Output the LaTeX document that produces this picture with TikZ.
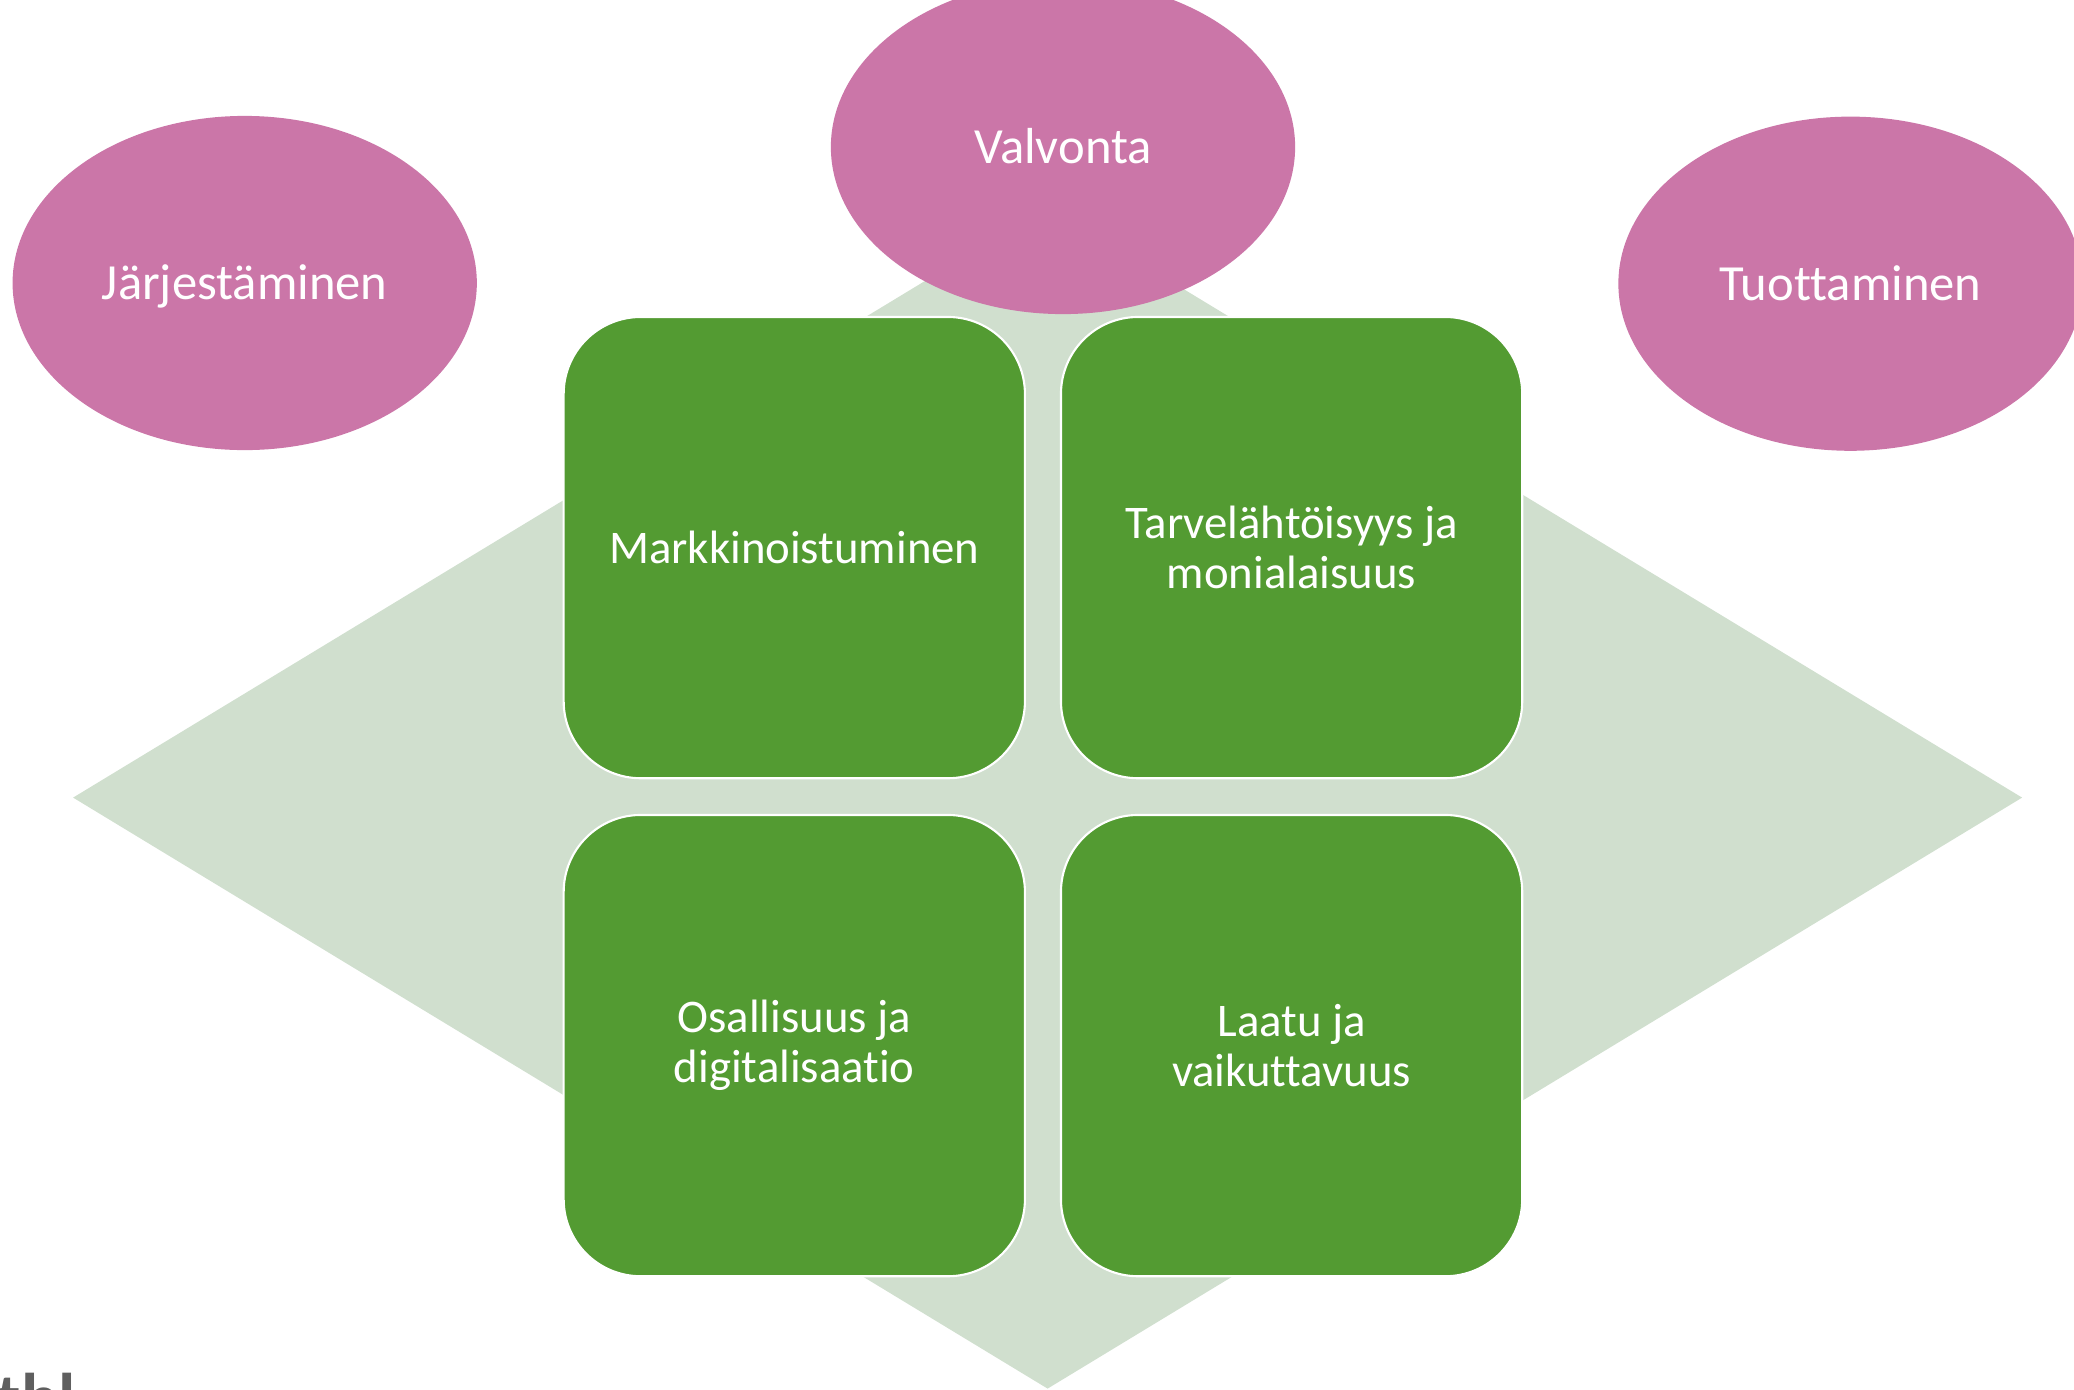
\documentclass[tikz,border=0pt]{standalone}
\usepackage{fontspec}
\setmainfont[Ligatures={NoCommon}]{Carlito}
\usetikzlibrary{shapes}

\definecolor{pinkki}{RGB}{203,118,168}
\definecolor{vihrea}{RGB}{83,155,50}
\definecolor{vaalea}{RGB}{208,223,206}
\definecolor{harmaa}{RGB}{95,95,95}

\begin{document}
\begin{tikzpicture}[x=0.01cm, y=-0.01cm,
   teema/.style={ellipse, fill=pinkki, text=white, minimum width=4.64cm, minimum height=3.34cm, text height=9.6pt, text depth=0pt, font=\fontsize{14.4}{17}\selectfont},
   alue/.style={rectangle, rounded corners=0.77cm, fill=vihrea, draw=white, line width=0.6pt, text=white, minimum width=4.61cm, minimum height=4.61cm, align=center, font=\fontsize{13.3}{14.2}\selectfont}]

  \useasboundingbox (0,0) rectangle (2074,1390);

 %diamond
 	\def\cx{1047.6};
	\def\cy{797.6};
	\def\dw{974.5};
	\def\dh{591};
     \fill[vaalea] (\cx-\dw,\cy) -- (\cx,\cy-\dh) -- (\cx+\dw,\cy) -- (\cx,\cy+\dh) -- cycle;

 %boxes
 	\def\xa{794.3};
	\def\xb{1291.6};
	\def\ya{547.6};
	\def\yb{1045.6};
     \node[alue] (b1) at (\xa, \ya) {Markkinoistuminen};
     \node[alue] (b2) at (\xb, \ya) {Tarvelähtöisyys ja\\monialaisuus};
     \node[alue] (b3) at (\xa, \yb) {Osallisuus ja\\digitalisaatio};
     \node[alue] (b4) at (\xb, \yb) {Laatu ja\\vaikuttavuus};

 %ellipses
    \foreach \x/\y/\name/\txt in { 244.7/283/e1/Järjestäminen, 1063/147/e2/Valvonta, 1850.5/283.7/e3/Tuottaminen } {
         \node[teema] (\name) at (\x, \y) {\txt};
    }

 %logo
     \node[anchor=north west, inner sep=0pt, text=harmaa, font=\bfseries\fontsize{20}{20}\selectfont] (logo) at (-4, 1372) {thl};

\end{tikzpicture}
\end{document}
